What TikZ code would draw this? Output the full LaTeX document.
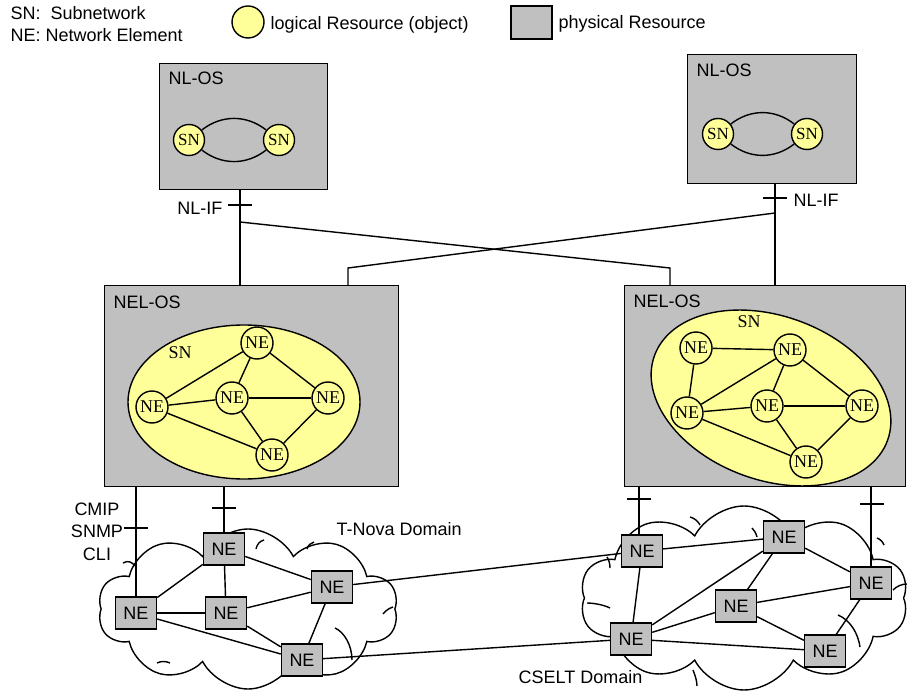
\documentclass[tikz,border=0pt]{standalone}
\usepackage{fontspec}
\setmainfont{Liberation Sans}
\newfontfamily\seriffont{Liberation Serif}
\usetikzlibrary{shapes.symbols,calc}
\definecolor{boxgray}{HTML}{C0C0C0}
\definecolor{resyellow}{HTML}{FFFF99}
\begin{document}
\begin{tikzpicture}[x=1pt,y=-1pt,line width=1.4pt,
  lbl/.style={font=\fontsize{18}{21}\selectfont,inner sep=0pt},
  serlbl/.style={font=\seriffont\fontsize{18}{21}\selectfont,inner sep=0pt},
  osbox/.style={draw,fill=boxgray,line width=1.4pt,inner sep=0pt,anchor=north west},
  necirc/.style={circle,draw,fill=resyellow,minimum size=32pt,inner sep=0pt,font=\seriffont\fontsize{18}{20}\selectfont},
  snc/.style={circle,draw,fill=resyellow,minimum size=31pt,inner sep=0pt,font=\seriffont\fontsize{17}{19}\selectfont},
  nebox/.style={rectangle,draw,fill=boxgray,minimum width=41pt,minimum height=32pt,inner sep=0pt,font=\fontsize{18}{20}\selectfont},
  subnet/.style={draw,fill=resyellow,line width=1.4pt},
  domaincloud/.style={cloud,draw,line width=1.4pt,cloud puffs=10,cloud puff arc=125,inner sep=0pt},
  curl/.style={line width=1.4pt},
  tick/.style={line width=1.4pt}
]
\useasboundingbox (0,0) rectangle (907,692);

% ---------- legend ----------
\node[lbl,anchor=base west] (legSN) at (10,20) {SN:\ \ Subnetwork};
\node[lbl,anchor=base west] (legNE) at (10,41.5) {NE: Network Element};
\node[circle,draw,fill=resyellow,minimum size=32pt,inner sep=0pt] (legC) at (248,22) {};
\node[lbl,anchor=base west] (legL) at (270,30) {logical Resource (object)};
\node[rectangle,draw,fill=boxgray,minimum width=41pt,minimum height=33pt,inner sep=0pt] (legB) at (531.5,22.5) {};
\node[lbl,anchor=base west] (legP) at (558,29) {physical Resource};

% ---------- clouds ----------
\node[domaincloud,aspect=1.9,minimum width=300pt,minimum height=160pt] (tnova) at (248,609) {};
\node[domaincloud,aspect=1.8,minimum width=328pt,minimum height=184pt] (cselt) at (744,598) {};
% inner curls of the clouds
\draw[curl] (123,563) .. controls (128,560) and (132,562) .. (135,566);
\draw[curl] (256,549) .. controls (257,544) and (260,541) .. (264,540);
\draw[curl] (307,549) .. controls (308,545) and (311,543) .. (314,542);
\draw[curl] (383,614) .. controls (386,610) and (390,608) .. (393,607);
\draw[curl] (335,628) .. controls (344,632) and (352,645) .. (352,660);
\draw[curl] (157,663) .. controls (161,661) and (166,661) .. (170,663);
\draw[curl] (690,517) .. controls (694,518) and (698,521) .. (700,525);
\draw[curl] (752,528) .. controls (754,530) and (756,533) .. (757,537);
\draw[curl] (877,538) .. controls (880,539) and (883,542) .. (884,545);
\draw[curl] (607,557) .. controls (609,560) and (610,564) .. (610,568);
\draw[curl] (587,603) .. controls (594,603) and (604,605) .. (610,608);
\draw[curl] (838,615) .. controls (850,620) and (858,633) .. (860,647);
\draw[curl] (893,590) .. controls (897,586) and (902,584) .. (907,584);
\draw[curl] (693,670) .. controls (695,675) and (697,681) .. (697,686);

% ---------- NL-OS boxes ----------
\node[osbox,minimum width=168pt,minimum height=126pt] (nlL) at (159,63) {};
\node[lbl,anchor=base west] (nlLt) at (168,85) {NL-OS};
\node[snc] (snL1) at (189,140) {SN};
\node[snc] (snL2) at (279,140) {SN};
\draw (snL1) to[out=38,in=142] (snL2);
\draw (snL1) to[out=-38,in=-142] (snL2);

\node[osbox,minimum width=169pt,minimum height=129pt] (nlR) at (687,54) {};
\node[lbl,anchor=base west] (nlRt) at (696,77) {NL-OS};
\node[snc] (snR1) at (718,134) {SN};
\node[snc] (snR2) at (807,134) {SN};
\draw (snR1) to[out=38,in=142] (snR2);
\draw (snR1) to[out=-38,in=-142] (snR2);

% ---------- NEL-OS boxes ----------
\node[osbox,minimum width=294pt,minimum height=201pt] (nelL) at (104,285) {};
\node[lbl,anchor=base west] (nelLt) at (113,309) {NEL-OS};
\draw[subnet] (244,402) ellipse [x radius=116,y radius=77];
\node[serlbl,anchor=base west] (snLt) at (168,359) {SN};
\node[necirc] (a1) at (257,343) {NE};
\node[necirc] (a2) at (152,407) {NE};
\node[necirc] (a3) at (232,398) {NE};
\node[necirc] (a4) at (328,398) {NE};
\node[necirc] (a5) at (272,455) {NE};
\draw (a2) -- (a1); \draw (a1) -- (a3); \draw (a1) -- (a4);
\draw (a2) -- (a3); \draw (a3) -- (a4); \draw (a2) -- (a5);
\draw (a3) -- (a5); \draw (a4) -- (a5);

\node[osbox,minimum width=281pt,minimum height=201pt] (nelR) at (624,285) {};
\node[lbl,anchor=base west] (nelRt) at (633,308) {NEL-OS};
\draw[subnet,rotate around={-20:(771,398)}] (771,398) ellipse [x radius=124,y radius=82];
\node[serlbl,anchor=base west] (snRt) at (737,328) {SN};
\node[necirc] (b1) at (696,348) {NE};
\node[necirc] (b2) at (790,350) {NE};
\node[necirc] (b3) at (687,413) {NE};
\node[necirc] (b4) at (767,406) {NE};
\node[necirc] (b5) at (862,406) {NE};
\node[necirc] (b6) at (806,462) {NE};
\draw (b1) -- (b2); \draw (b1) -- (b3); \draw (b3) -- (b2);
\draw (b2) -- (b4); \draw (b2) -- (b5); \draw (b3) -- (b4);
\draw (b4) -- (b5); \draw (b3) -- (b6); \draw (b4) -- (b6);
\draw (b5) -- (b6);

% ---------- NL-IF connections ----------
\coordinate (jL) at (240,222);
\coordinate (jR) at (775,213);
\draw (nlL.south -| jL) -- (nelL.north -| jL);
\draw (nlR.south -| jR) -- (nelR.north -| jR);
\draw (jL) -- (670,268) -- (nelR.north -| 670,0);
\draw (jR) -- (348,268) -- (nelL.north -| 348,0);
\draw[tick] (228,205) -- (252,205);
\draw[tick] (763,198) -- (787,198);
\node[lbl,anchor=base east] (nlifL) at (223,215) {NL-IF};
\node[lbl,anchor=base west] (nlifR) at (793,207) {NL-IF};

% ---------- T-Nova NEs ----------
\node[nebox] (n1) at (136,613) {NE};
\node[nebox] (n2) at (224,549) {NE};
\node[nebox] (n3) at (226,613) {NE};
\node[nebox] (n4) at (332,587) {NE};
\node[nebox] (n5) at (302,660) {NE};
\draw (n1) -- (n2); \draw (n1) -- (n3); \draw (n1) -- (n5);
\draw (n2) -- (n3); \draw (n2) -- (n4); \draw (n3) -- (n4);
\draw (n3) -- (n5); \draw (n4) -- (n5);

% ---------- CSELT NEs ----------
\node[nebox] (r1) at (642,551) {NE};
\node[nebox] (r2) at (784,537) {NE};
\node[nebox] (r3) at (871,583) {NE};
\node[nebox] (r4) at (736,606) {NE};
\node[nebox] (r5) at (631,639) {NE};
\node[nebox] (r6) at (825,651) {NE};
\draw (r1) -- (r2); \draw (r1) -- (r5); \draw (r5) -- (r2);
\draw (r2) -- (r4); \draw (r2) -- (r3); \draw (r5) -- (r4);
\draw (r4) -- (r3); \draw (r4) -- (r6); \draw (r3) -- (r6);
\draw (r5) -- (r6);

% inter-domain links
\draw (n4) -- (r1);
\draw (n5) -- (r5);

% ---------- management interfaces ----------
\draw (nelL.south -| n1) -- (n1.north);
\draw (nelL.south -| n2) -- (n2.north);
\draw (nelR.south -| 639,0) -- (r1.north -| 639,0);
\draw (nelR.south -| r3) -- (r3.north);
\draw[tick] (124,528) -- (148,528);
\draw[tick] (212,508) -- (236,508);
\draw[tick] (627,499) -- (651,499);
\draw[tick] (860,504) -- (884,504);
\node[lbl,anchor=base] (cmip) at (97,515) {CMIP};
\node[lbl,anchor=base] (snmp) at (97,537) {SNMP};
\node[lbl,anchor=base] (cli) at (97,560) {CLI};

% ---------- domain labels ----------
\node[lbl,anchor=base west] (tnl) at (336,535) {T-Nova Domain};
\node[lbl,anchor=base east] (csl) at (643,683) {CSELT Domain};
\end{tikzpicture}
\end{document}
